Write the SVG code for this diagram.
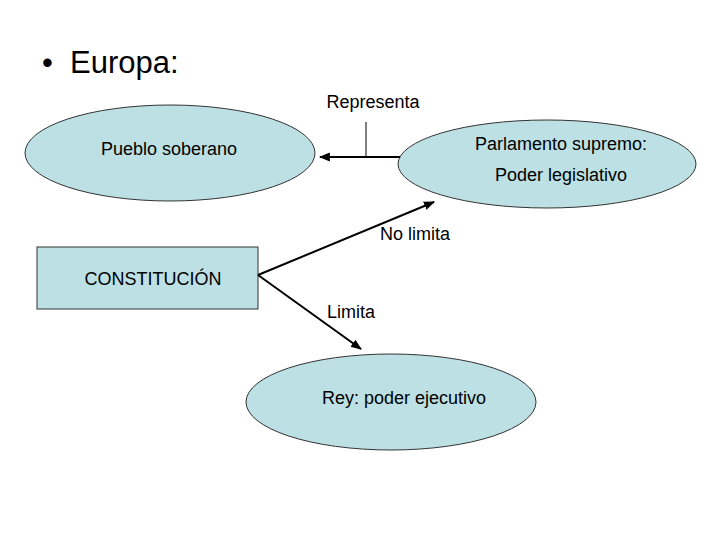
<svg xmlns="http://www.w3.org/2000/svg" width="720" height="540" viewBox="0 0 720 540">
<style>
.shape{fill:#bde0e4;stroke:#333;stroke-width:1}
.t{font-family:"Liberation Sans",Arial,sans-serif;font-size:18px;fill:#000;text-anchor:middle}
.c{stroke:#000;stroke-width:2;fill:none}
</style>
<defs>
<marker id="ah" viewBox="0 0 10 10" refX="9" refY="5" markerWidth="5.5" markerHeight="5.5" orient="auto-start-reverse" markerUnits="strokeWidth">
<path d="M0,1 L10,5 L0,9 Z" fill="#000"/>
</marker>
</defs>
<rect width="720" height="540" fill="#fff"/>
<g id="title">
<text x="42" y="73" style="font-family:'Liberation Sans',Arial,sans-serif;font-size:31px">•</text>
<text x="70" y="73" style="font-family:'Liberation Sans',Arial,sans-serif;font-size:31px">Europa:</text>
</g>
<g id="pueblo">
<ellipse class="shape" cx="170" cy="153" rx="145" ry="48"/>
<text class="t" x="169" y="155">Pueblo soberano</text>
</g>
<g id="parlamento">
<ellipse class="shape" cx="547" cy="164" rx="149" ry="44"/>
<text class="t" x="561" y="150">Parlamento supremo:</text>
<text class="t" x="561" y="181">Poder legislativo</text>
</g>
<g id="constitucion">
<rect class="shape" x="37" y="247" width="221" height="62"/>
<text class="t" x="153" y="285">CONSTITUCIÓN</text>
</g>
<g id="rey">
<ellipse class="shape" cx="391" cy="402" rx="145" ry="48"/>
<text class="t" x="404" y="404">Rey: poder ejecutivo</text>
</g>
<g id="connectors">
<line class="c" x1="400" y1="157" x2="320" y2="157" marker-end="url(#ah)"/>
<line stroke="#000" stroke-width="1" x1="366" y1="122" x2="366" y2="157"/>
<line class="c" x1="258" y1="275" x2="434" y2="202" marker-end="url(#ah)"/>
<line class="c" x1="258" y1="275" x2="361" y2="349" marker-end="url(#ah)"/>
<text class="t" x="373" y="108">Representa</text>
<text class="t" x="415" y="240">No limita</text>
<text class="t" x="351" y="318">Limita</text>
</g>
</svg>
